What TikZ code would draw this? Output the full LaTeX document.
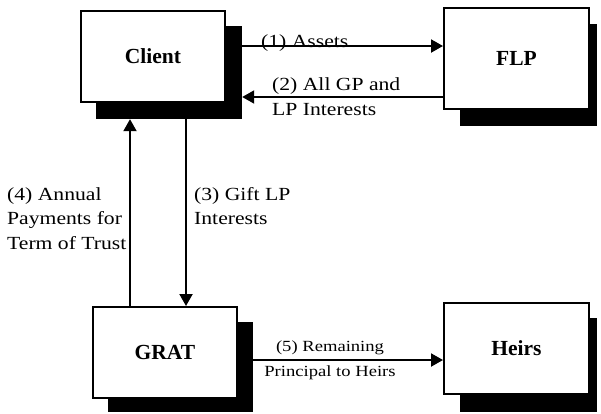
\documentclass[tikz,border=0pt]{standalone}
\usepackage{graphicx}
\usepackage{fontspec}
\setmainfont{Liberation Serif}
\usetikzlibrary{arrows.meta}
% left-aligned block of lines, widened horizontally
\newcommand\widelines[2][1.17]{\scalebox{#1}[1]{\begin{tabular}[t]{@{}l@{}}#2\end{tabular}}}
\newcommand\widecentre[2][1.2]{\scalebox{#1}[1]{\begin{tabular}[t]{@{}c@{}}#2\end{tabular}}}
\begin{document}
\begin{tikzpicture}[x=1pt,y=-1pt,
  box/.style={draw,line width=2pt,fill=white,inner sep=0pt,
    font=\fontsize{21.5}{26}\selectfont\bfseries},
  shade/.style={fill=black,inner sep=0pt},
  lbl/.style={inner sep=0pt,font=\fontsize{18.5}{24.5}\selectfont},
  smalllbl/.style={inner sep=0pt,font=\fontsize{15.5}{25}\selectfont},
  link/.style={line width=2pt,-{Triangle[width=13pt,length=12pt]}}]
\useasboundingbox (0,0) rectangle (601,413);

% drop shadows
\node[shade,minimum width=146pt,minimum height=93pt] (clientsh) at (169,72.5) {};
\node[shade,minimum width=137pt,minimum height=102pt] (flpsh) at (528.5,75) {};
\node[shade,minimum width=145pt,minimum height=90pt] (gratsh) at (180.5,367) {};
\node[shade,minimum width=137pt,minimum height=94pt] (heirssh) at (528.5,365) {};

% boxes
\node[box,minimum width=144pt,minimum height=91pt] (client) at (153,56.5) {Client};
\node[box,minimum width=145pt,minimum height=101pt] (flp) at (516.5,58.5) {FLP};
\node[box,minimum width=144pt,minimum height=91pt] (grat) at (165,352.5) {GRAT};
\node[box,minimum width=145pt,minimum height=91pt] (heirs) at (516.5,348.5) {Heirs};

% connector tracks
\coordinate (y1) at (0,46);
\coordinate (y2) at (0,97);
\coordinate (x3) at (186,0);
\coordinate (x4) at (130,0);
\coordinate (y5) at (0,360);

% labels
\node[lbl,anchor=base west] (t1) at (261,47) {\widelines{(1) Assets}};
\node[lbl,anchor=base west] (t2) at (272,90.5) {\widelines{(2) All GP and\\LP Interests}};
\node[lbl,anchor=base west] (t3) at (194,200) {\widelines{(3) Gift LP\\Interests}};
\node[lbl,anchor=base west] (t4) at (7,200) {\widelines{(4) Annual\\Payments for\\Term of Trust}};
\node[smalllbl,anchor=base] (t5) at (330,351) {\widecentre{(5) Remaining\\Principal to Heirs}};

% connectors
\draw[link] (clientsh.east |- y1) -- (flp.west |- y1);
\draw[link] (flp.west |- y2) -- (clientsh.east |- y2);
\draw[link] (clientsh.south -| x3) -- (grat.north -| x3);
\draw[link] (grat.north -| x4) -- (clientsh.south -| x4);
\draw[link] (gratsh.east |- y5) -- (heirs.west |- y5);
\end{tikzpicture}
\end{document}
